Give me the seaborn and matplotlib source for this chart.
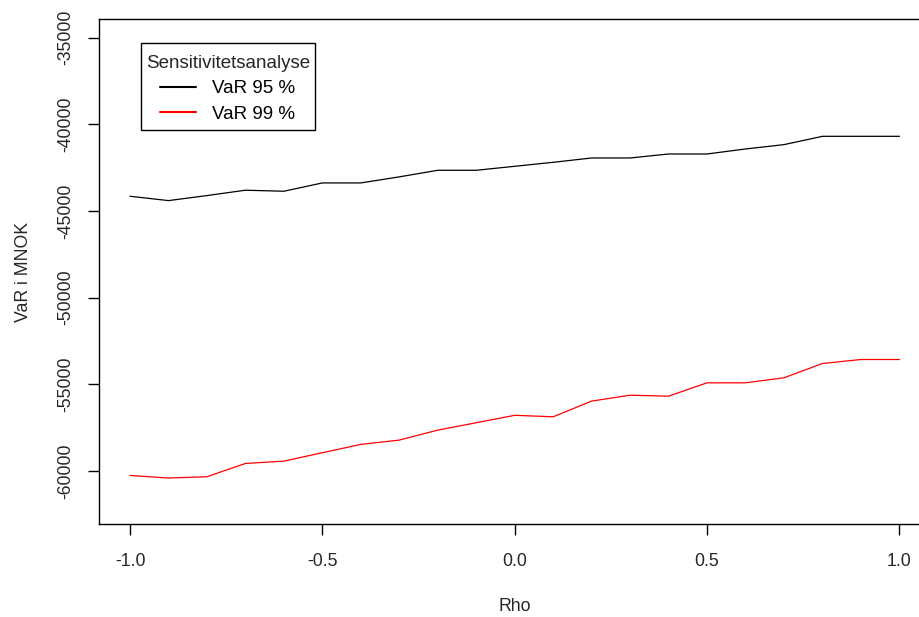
import pandas as pd
import numpy as np
import matplotlib
matplotlib.use("Agg")
import matplotlib.pyplot as plt
import seaborn as sns
from matplotlib.lines import Line2D
from matplotlib.offsetbox import VPacker, DrawingArea

# data
rho = [-1.0, -0.9, -0.8, -0.7, -0.6, -0.5, -0.4, -0.3, -0.2, -0.1, 0.0,
       0.1, 0.2, 0.3, 0.4, 0.5, 0.6, 0.7, 0.8, 0.9, 1.0]
var95 = [-44150, -44400, -44110, -43800, -43860, -43380, -43380, -43030, -42650, -42650, -42420,
         -42190, -41940, -41940, -41710, -41710, -41420, -41170, -40690, -40690, -40690]
var99 = [-60260, -60410, -60335, -59570, -59435, -58950, -58470, -58220, -57645, -57220, -56790,
         -56875, -55970, -55630, -55685, -54915, -54915, -54625, -53800, -53570, -53570]
labels = ["VaR 95 %", "VaR 99 %"]
yticks = [-60000, -55000, -50000, -45000, -40000, -35000]
xticks = [-1.0, -0.5, 0.0, 0.5, 1.0]

df = pd.DataFrame({
    "Rho": rho * 2,
    "VaR": var95 + var99,
    "serie": [labels[0]] * len(rho) + [labels[1]] * len(rho),
})

sns.set_style("white")
plt.rcParams["font.family"] = ["Liberation Sans", "DejaVu Sans"]
fs = 12.7

fig = plt.figure(figsize=(9.2, 6.17), dpi=100)
ax = fig.add_axes([99 / 920, 1 - 524.3 / 617, 831.4 / 920, 505.3 / 617])

sns.lineplot(data=df, x="Rho", y="VaR", hue="serie",
             palette={labels[0]: "black", labels[1]: "red"},
             linewidth=0.9, ax=ax, legend=False)

ax.set_xlim(-1.0806, 1.0806)
ax.set_ylim(-63080, -33920)
ax.set_xticks(xticks)
ax.set_xticklabels([f"{t:.1f}" for t in xticks], fontsize=fs)
ax.set_yticks(yticks)
ax.set_yticklabels([str(t) for t in yticks], fontsize=fs, rotation=90, va="center")
ax.tick_params(axis="both", direction="out", length=8, width=1, color="black",
               bottom=True, left=True)
ax.tick_params(axis="x", pad=13)
ax.tick_params(axis="y", pad=10)
for s in ax.spines.values():
    s.set_color("black")
    s.set_linewidth(1)

ax.set_xlabel("Rho", fontsize=fs, labelpad=20)
ax.set_ylabel("VaR i MNOK", fontsize=fs, labelpad=18)

lfs = 13.5
handles = [Line2D([], [], color="black", lw=1.5), Line2D([], [], color="red", lw=1.5)]
leg = ax.legend(handles, labels, title="Sensitivitetsanalyse", fontsize=lfs,
                title_fontsize=lfs, loc="upper left",
                bbox_to_anchor=(141 / 920, 1 - 43 / 617), bbox_transform=fig.transFigure,
                borderaxespad=0, fancybox=False, edgecolor="black", framealpha=1,
                handlelength=1.9, handletextpad=0.9, labelspacing=0.45,
                borderpad=0.25)
leg.get_frame().set_linewidth(1)
for t in leg.get_texts():
    t.set_color("black")

# R-style legend: extra room above the title, tighter under it
leg._legend_box._children[0] = VPacker(pad=0, sep=0, align="center",
                                       children=[DrawingArea(1, 5), leg._legend_title_box])
leg._legend_box.sep = 4
leg._legend_handle_box.pad = 2

fig.savefig("out.png", dpi=100)
